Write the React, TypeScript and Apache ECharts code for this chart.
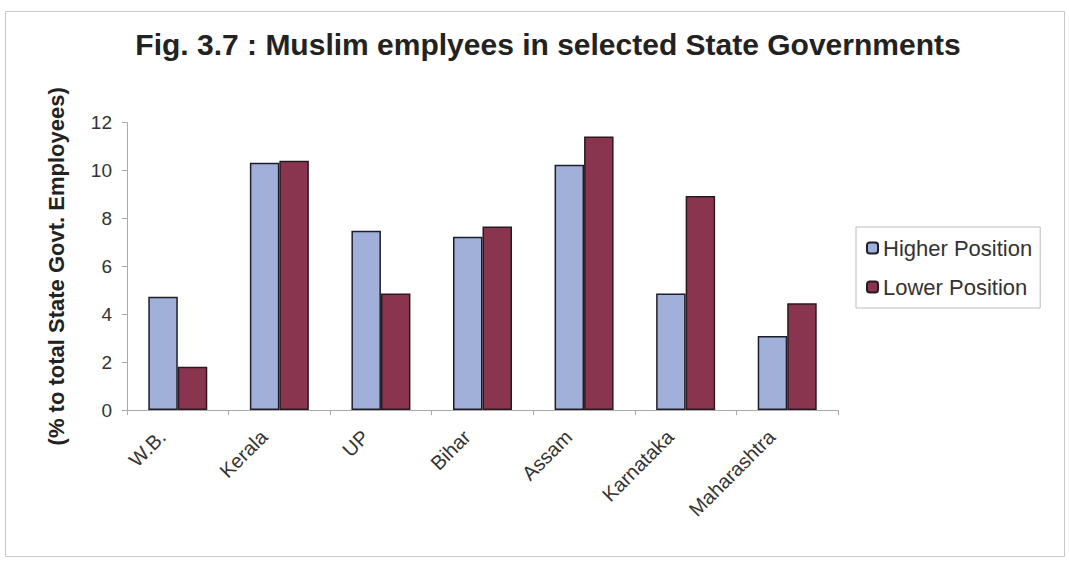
import React, { useEffect, useRef } from "react";
import * as echarts from "echarts";

const states = ["W.B.", "Kerala", "UP", "Bihar", "Assam", "Karnataka", "Maharashtra"];
const higherPosition = [4.73, 10.33, 7.49, 7.24, 10.24, 4.87, 3.09];
const lowerPosition = [1.81, 10.41, 4.87, 7.66, 11.42, 8.94, 4.46];
const seriesNames = ["Higher Position", "Lower Position"];
const titleText = "Fig. 3.7 : Muslim emplyees in selected State Governments";
const yAxisName = "(% to total State Govt. Employees)";

export default function App() {
  const ref = useRef<HTMLDivElement>(null);
  useEffect(() => {
    if (!ref.current) return;
    const chart = echarts.init(ref.current, null, { renderer: "svg" });
    const font = "'Liberation Sans', Arial, sans-serif";
    chart.setOption({
      animation: false,
      backgroundColor: "#ffffff",
      title: {
        text: titleText,
        left: 543,
        textAlign: "center",
        top: 24,
        textStyle: { fontFamily: font, fontSize: 30, fontWeight: "bold", color: "#222" },
      },
      graphic: [
        {
          type: "rect",
          shape: { x: 5.5, y: 11.5, width: 1059, height: 545 },
          style: { fill: "none", stroke: "#c8c8c8", lineWidth: 1 },
          silent: true,
        },
      ],
      legend: {
        orient: "vertical",
        left: 856,
        top: 227,
        itemWidth: 11,
        itemHeight: 11,
        itemGap: 17,
        padding: [10, 8, 10, 10],
        borderColor: "#bbb",
        borderWidth: 1,
        textStyle: { fontFamily: font, fontSize: 22, color: "#333" },
        data: seriesNames,
      },
      grid: { left: 127, right: 231, top: 122.7, bottom: 151, containLabel: false },
      xAxis: {
        type: "category",
        data: states,
        axisLine: { lineStyle: { color: "#aaa" } },
        axisTick: { show: true, length: 5, lineStyle: { color: "#aaa" } },
        axisLabel: {
          rotate: 45,
          interval: 0,
          margin: 8,
          padding: [0, 22, 0, 0],
          fontFamily: font,
          fontSize: 20,
          color: "#333",
        },
      },
      yAxis: {
        type: "value",
        min: 0,
        max: 12,
        interval: 2,
        name: yAxisName,
        nameLocation: "middle",
        nameGap: 60,
        nameTextStyle: { fontFamily: font, fontSize: 22, fontWeight: "bold", color: "#222" },
        axisLine: { show: true, lineStyle: { color: "#aaa" } },
        axisTick: { show: true, length: 5, lineStyle: { color: "#aaa" } },
        splitLine: { show: false },
        axisLabel: { fontFamily: font, fontSize: 19, color: "#333", margin: 15 },
      },
      series: [
        {
          name: seriesNames[0],
          type: "bar",
          data: higherPosition,
          barWidth: 29.5,
          barGap: "0%",
          itemStyle: { color: "#a0b0d8", borderColor: "#1e1e2a", borderWidth: 1.5 },
        },
        {
          name: seriesNames[1],
          type: "bar",
          data: lowerPosition,
          barWidth: 29.5,
          barGap: "0%",
          itemStyle: { color: "#8a3550", borderColor: "#2a1a20", borderWidth: 1.5 },
        },
      ],
    });
    return () => chart.dispose();
  }, []);
  return (
    <div
      ref={ref}
      style={{ position: "fixed", left: 0, top: 0, width: 1069, height: 561 }}
    />
  );
}
